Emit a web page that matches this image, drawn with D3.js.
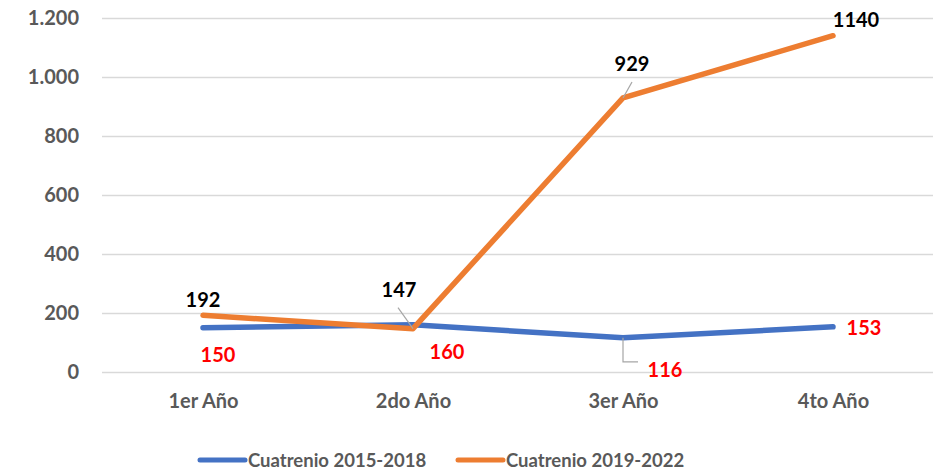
<!DOCTYPE html>
<meta charset="utf-8">
<script src="https://d3js.org/d3.v7.min.js"></script>
<style type="text/css">
    body { margin: 0; background: #fff; }
    svg text { font-family: Lato, "Open Sans", sans-serif; font-weight: bold; }
    .axis path { display: none; }
    .y.axis line { stroke: #d9d9d9; stroke-width: 1.5; }
    .axis text { fill: #595959; font-size: 20px; }
    .x.axis line { display: none; }
</style>
<body>
</body>
<script>

// data
var years = ["1er Año", "2do Año", "3er Año", "4to Año"];
var serie1 = [150, 160, 116, 153];     // Cuatrenio 2015-2018
var serie2 = [192, 147, 929, 1140];    // Cuatrenio 2019-2022
var seriesNames = ["Cuatrenio 2015-2018", "Cuatrenio 2019-2022"];
var yTicks = [0, 200, 400, 600, 800, 1000, 1200];

// label offsets relative to each point (dx, dy of text center/baseline)
var off1 = [[15, 34], [34, 34], [42, 39], [31, 8]];
var off2 = [[0, -8], [-14, -32], [9, -27], [23, -9]];
// leader lines: [x1,y1,x2,y2...] relative to point, null = none
var lead1 = [null, null, [[0, 0], [0, 24], [15, 24]], null];
var lead2 = [null, [[0, 0], [-15, -21]], [[0, 0], [9, -16]], null];

var colors = ["#4472C4", "#ED7D31"];
var labelColors = ["#FF0000", "#000000"];

var margin = {top: 18, right: 0, bottom: 99, left: 98};
var W = 933, H = 471;
var width = W - margin.left - margin.right;
var height = H - margin.top - margin.bottom;

var svg = d3.select("body").append("svg")
    .attr("width", W)
    .attr("height", H)
    .append("g")
    .attr("transform", "translate(" + margin.left + "," + margin.top + ")");

var xScale = d3.scalePoint()
    .domain(years)
    .range([105, 735]);

var yScale = d3.scaleLinear()
    .domain([0, 1200])
    .range([height, 0]);

var fmt = function(d) { return d3.format(",")(d).replace(/,/g, "."); };

var yAxis = d3.axisLeft(yScale)
    .tickValues(yTicks)
    .tickFormat(fmt)
    .tickSize(-831)
    .tickPadding(0);

var yAxisGroup = svg.append("g")
    .attr("class", "y axis")
    .attr("transform", "translate(4,0)")
    .call(yAxis);

yAxisGroup.selectAll("text").attr("x", -23);

var xAxis = d3.axisBottom(xScale).tickSize(0).tickPadding(22);

svg.append("g")
    .attr("class", "x axis")
    .attr("transform", "translate(0," + height + ")")
    .call(xAxis);

var line = d3.line()
    .x(function(d, i) { return xScale(years[i]); })
    .y(function(d) { return yScale(d); });

var all = [serie1, serie2];
var offs = [off1, off2];
var leads = [lead1, lead2];

all.forEach(function(s, k) {
    svg.append("path")
        .datum(s)
        .attr("fill", "none")
        .attr("stroke", colors[k])
        .attr("stroke-width", 5.5)
        .attr("stroke-linecap", "round")
        .attr("stroke-linejoin", "round")
        .attr("d", line);
});

all.forEach(function(s, k) {
    s.forEach(function(v, i) {
        var px = xScale(years[i]), py = yScale(v);
        var ld = leads[k][i];
        if (ld) {
            svg.append("path")
                .attr("fill", "none")
                .attr("stroke", "#a6a6a6")
                .attr("stroke-width", 1.2)
                .attr("d", d3.line()(ld.map(function(p) { return [px + p[0], py + p[1]]; })));
        }
        svg.append("text")
            .attr("x", px + offs[k][i][0])
            .attr("y", py + offs[k][i][1])
            .attr("text-anchor", "middle")
            .style("font-size", "20px")
            .style("fill", labelColors[k])
            .text(v);
    });
});

// legend
var legend = svg.append("g")
    .attr("transform", "translate(0," + (460 - margin.top) + ")");

var legX = [102, 360];
seriesNames.forEach(function(n, k) {
    legend.append("line")
        .attr("x1", legX[k]).attr("x2", legX[k] + 45)
        .attr("y1", 0).attr("y2", 0)
        .attr("stroke", colors[k])
        .attr("stroke-width", 5)
        .attr("stroke-linecap", "round");
    legend.append("text")
        .attr("x", legX[k] + 48)
        .attr("y", 7)
        .style("font-size", "18.5px")
        .style("fill", "#595959")
        .text(n);
});

</script>
